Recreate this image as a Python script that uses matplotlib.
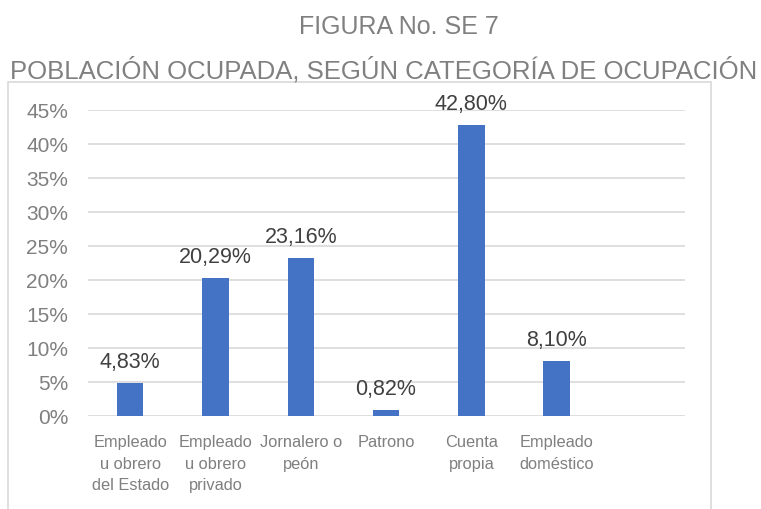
import matplotlib.pyplot as plt
from matplotlib.patches import Rectangle
from matplotlib.ticker import FuncFormatter

plt.rcParams['font.family'] = ['Liberation Sans', 'DejaVu Sans']

# share of employed population by occupation category (%)
categorias = ['Empleado\nu obrero\ndel Estado', 'Empleado\nu obrero\nprivado',
              'Jornalero o\npeón', 'Patrono', 'Cuenta\npropia', 'Empleado\ndoméstico']
porcentajes = [4.83, 20.29, 23.16, 0.82, 42.80, 8.10]
yticks = [0, 5, 10, 15, 20, 25, 30, 35, 40, 45]

fig = plt.figure(figsize=(7.61, 5.10), dpi=100)
ax = fig.add_axes([0.115, 0.1824, 0.7846, 0.6])

# outer frame of the chart area
fig.patches.append(Rectangle((8 / 761, -0.05), (711 - 8) / 761, (510 - 83) / 510 + 0.05,
                             transform=fig.transFigure, fill=False,
                             edgecolor='#d9d9d9', linewidth=1.2))

x = list(range(len(categorias)))
bars = ax.bar(x, porcentajes, width=0.31, color='#4472C4', zorder=3)

for b, v in zip(bars, porcentajes):
    ax.annotate(f'{v:.2f}%'.replace('.', ','), (b.get_x() + b.get_width() / 2, v),
                xytext=(0, 8), textcoords='offset points', ha='center', va='bottom',
                fontsize=15.5, color='#404040')

# one empty slot at the right end, as in the source workbook
ax.set_xlim(-0.5, len(categorias) + 0.5)
ax.set_ylim(0, 45)
ax.set_yticks(yticks)
ax.yaxis.set_major_formatter(FuncFormatter(lambda v, p: f'{v:.0f}%'))
ax.set_xticks(x)
ax.set_xticklabels(categorias, fontsize=11.8, color='#7f7f7f', linespacing=1.55)
ax.tick_params(axis='y', labelsize=15, labelcolor='#7f7f7f', length=0, pad=14)
ax.tick_params(axis='x', length=0, pad=13)

ax.grid(axis='y', color='#d9d9d9', linewidth=1.2, zorder=0)
for s in ax.spines.values():
    s.set_visible(False)

fig.text(399 / 761, 1 - 27 / 510, 'FIGURA No. SE 7', ha='center', va='center',
         fontsize=18, color='#808080')
fig.text(384 / 761, 1 - 70 / 510, 'POBLACIÓN OCUPADA, SEGÚN CATEGORÍA DE OCUPACIÓN',
         ha='center', va='center', fontsize=18.5, color='#808080')

fig.savefig('out.png', dpi=100)
